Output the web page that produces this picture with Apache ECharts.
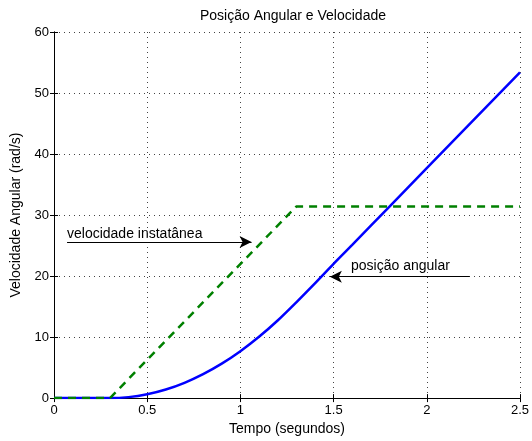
<!DOCTYPE html>
<html>
<head>
<meta charset="utf-8">
<script src="https://cdn.jsdelivr.net/npm/echarts@6/dist/echarts.min.js"></script>
<style>
  html, body { margin: 0; padding: 0; background: #fff; }
  #container { width: 532px; height: 441px; }
</style>
</head>
<body>
<div id="container"></div>
<script>
var dom = document.getElementById("container");
var myChart = echarts.init(dom);

// tempo (s) e valores
var posTime = [0, 0.3, 0.4, 0.5, 0.6, 0.7, 0.8, 0.9, 1.0, 1.1, 1.2, 1.3, 1.4, 1.5, 1.6, 1.8, 2.0, 2.5];
var posValue = [0, 0, 0.16, 0.63, 1.41, 2.51, 3.93, 5.65, 7.69, 10.05, 12.72, 15.7, 18.8, 22.0, 25.1, 31.4, 37.7, 53.4];
var velTime = [0, 0.3, 1.3, 2.5];
var velValue = [0, 0, 31.4, 31.4];

// anotacoes (coordenadas em dados)
var velArrow = [[0.07, 25.6], [1.06, 25.6]];
var posArrow = [[2.23, 19.9], [1.48, 19.9]];

function pairs(xs, ys) {
  return xs.map(function (x, i) { return [x, ys[i]]; });
}

var font = 'Liberation Sans, Arial, Helvetica, sans-serif';

var option = {
  animation: false,
  textStyle: { fontFamily: font },
  title: {
    text: 'Posição Angular e Velocidade',
    left: 288, top: 4, textAlign: 'center',
    textStyle: { fontSize: 14, fontWeight: 'normal', color: '#000', fontFamily: font }
  },
  grid: { left: 54, right: 9, top: 32, bottom: 41 },
  xAxis: [{
    type: 'value', min: 0, max: 2.5, interval: 0.5,
    name: 'Tempo (segundos)', nameLocation: 'middle', nameGap: 20,
    nameTextStyle: { fontSize: 14, color: '#000', verticalAlign: 'top' },
    axisLine: { show: true, onZero: false, lineStyle: { color: '#000', width: 1 } },
    axisTick: { show: true, inside: true, length: 4, lineStyle: { color: '#000' } },
    axisLabel: { fontSize: 13, color: '#000', margin: 6 },
    splitLine: { show: true, lineStyle: { type: [1, 4], color: '#444' } }
  }, {
    type: 'value', min: 0, max: 2.5, interval: 0.5, position: 'top',
    axisLine: { show: true, lineStyle: { color: '#000', width: 1 } },
    axisTick: { show: true, inside: true, length: 4, lineStyle: { color: '#000' } },
    axisLabel: { show: false },
    splitLine: { show: false }
  }],
  yAxis: [{
    type: 'value', min: 0, max: 60, interval: 10,
    name: 'Velocidade Angular (rad/s)', nameLocation: 'middle', nameGap: 26,
    nameTextStyle: { fontSize: 14, color: '#000' },
    axisLine: { show: true, lineStyle: { color: '#000', width: 1 } },
    axisTick: { show: true, inside: true, length: 4, lineStyle: { color: '#000' } },
    axisLabel: { fontSize: 13, color: '#000', margin: 5 },
    splitLine: { show: true, lineStyle: { type: [1, 4], color: '#444' } }
  }, {
    type: 'value', min: 0, max: 60, interval: 10, position: 'right',
    axisLine: { show: true, lineStyle: { color: '#000', width: 1 } },
    axisTick: { show: true, inside: true, length: 4, lineStyle: { color: '#000' } },
    axisLabel: { show: false },
    splitLine: { show: false }
  }],
  graphic: [{
    type: 'text', left: 67, top: 227,
    style: { text: 'velocidade instatânea', fontSize: 14, fill: '#000', fontFamily: font }
  }, {
    type: 'text', left: 351, top: 259,
    style: { text: 'posição angular', fontSize: 14, fill: '#000', fontFamily: font }
  }],
  series: [{
    type: 'line', name: 'posição angular',
    data: pairs(posTime, posValue),
    smooth: 0.3, showSymbol: false,
    lineStyle: { color: '#0000ff', width: 2.5 },
    z: 3
  }, {
    type: 'line', name: 'velocidade',
    data: pairs(velTime, velValue),
    showSymbol: false,
    lineStyle: { color: '#008000', width: 2.5, type: [8, 6] },
    z: 4,
    markLine: {
      silent: true,
      symbol: ['none', 'arrow'],
      symbolSize: [9, 12],
      label: { show: false },
      lineStyle: { color: '#000', width: 1, type: 'solid' },
      data: [
        [{ coord: velArrow[0] }, { coord: velArrow[1] }],
        [{ coord: posArrow[0] }, { coord: posArrow[1] }]
      ]
    }
  }]
};

myChart.setOption(option);
</script>
</body>
</html>
